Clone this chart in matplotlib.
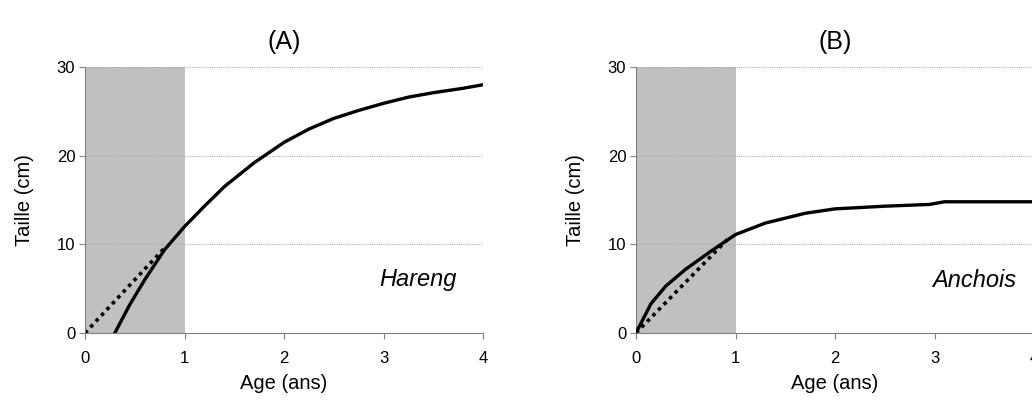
import numpy as np
import matplotlib
matplotlib.use("Agg")
import matplotlib.pyplot as plt

plt.rcParams['font.family'] = ['Liberation Sans', 'DejaVu Sans']

# Hareng (A)
age_a = [0.3, 0.45, 0.6, 0.8, 1.0, 1.2, 1.4, 1.7, 2.0, 2.25, 2.5, 2.75, 3.0, 3.25, 3.5, 3.8, 4.0]
taille_a = [0.0, 3.2, 6.0, 9.4, 12.0, 14.3, 16.5, 19.2, 21.5, 23.0, 24.2, 25.1, 25.9, 26.6, 27.1, 27.6, 28.0]
tangente_a_x = [0.0, 0.8]
tangente_a_y = [0.0, 9.6]

# Anchois (B)
age_b = [0.0, 0.15, 0.3, 0.5, 0.75, 1.0, 1.3, 1.7, 2.0, 2.5, 2.95, 3.1, 4.0]
taille_b = [0.0, 3.3, 5.3, 7.2, 9.2, 11.1, 12.4, 13.5, 14.0, 14.3, 14.5, 14.8, 14.8]
tangente_b_x = [0.0, 0.94]
tangente_b_y = [0.0, 10.8]

panels = [
    ("(A)", "Hareng", age_a, taille_a, tangente_a_x, tangente_a_y, 85, (3.35, 6.0)),
    ("(B)", "Anchois", age_b, taille_b, tangente_b_x, tangente_b_y, 636, (3.40, 5.9)),
]

fig = plt.figure(figsize=(10.32, 4), dpi=100)
W, H = 1032., 400.
for title, espece, x, y, tx, ty, x0, pos in panels:
    ax = fig.add_axes([x0 / W, (400 - 333) / H, 398 / W, 266 / H])
    ax.axvspan(0, 1, color='#c0c0c0', zorder=0, lw=0)
    for g in [10, 20, 30]:
        ax.axhline(g, color='#b0b0b0', lw=0.8, ls=(0, (1, 1)), zorder=0.5)
    ax.plot(tx, ty, color='black', lw=2.6, ls=(0, (1, 1.2)), zorder=2)
    ax.plot(x, y, color='black', lw=2.4, zorder=3)
    ax.set_xlim(0, 4)
    ax.set_ylim(0, 30)
    ax.set_xticks([0, 1, 2, 3, 4])
    ax.set_yticks([0, 10, 20, 30])
    ax.spines['top'].set_visible(False)
    ax.spines['right'].set_visible(False)
    ax.spines['left'].set_color('#808080')
    ax.spines['bottom'].set_color('#808080')
    ax.tick_params(colors='#808080', labelcolor='black', labelsize=12,
                   length=4, direction='out')
    ax.tick_params(axis='x', pad=9)
    ax.tick_params(axis='y', pad=3)
    ax.set_xlabel('Age (ans)', fontsize=14.5, labelpad=6)
    ax.set_ylabel('Taille (cm)', fontsize=14.5, labelpad=16)
    ax.set_title(title, fontsize=18, pad=13)
    ax.text(pos[0], pos[1], espece, fontsize=17, style='italic', ha='center', va='center')

fig.savefig('out.png', dpi=100)
